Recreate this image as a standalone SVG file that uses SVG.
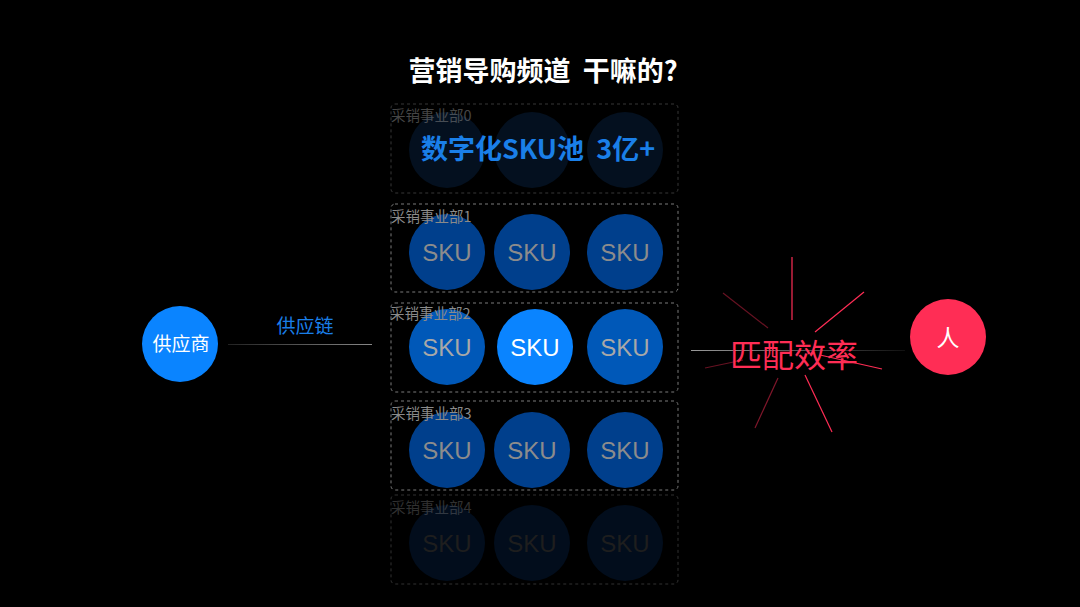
<svg xmlns="http://www.w3.org/2000/svg" width="1080" height="607" viewBox="0 0 1080 607">
<defs>
<style>
.t{font-family:"Noto Sans CJK SC","Liberation Sans",sans-serif}
.box{fill:none;stroke:#7a7a7a;stroke-width:1;stroke-dasharray:3 3}
.lbl{font-family:"Noto Sans CJK SC",sans-serif;font-size:14.5px;fill:#8a8a8a}
.sku{font-family:"Liberation Sans","Noto Sans",sans-serif;font-size:24px;text-anchor:middle}
.ray{stroke:#ff2d55;stroke-width:1.2}
</style>
<linearGradient id="gl" gradientUnits="userSpaceOnUse" x1="228" y1="0" x2="372" y2="0"><stop offset="0" stop-color="#222"/><stop offset="1" stop-color="#888"/></linearGradient>
<linearGradient id="gr" gradientUnits="userSpaceOnUse" x1="691" y1="0" x2="905" y2="0"><stop offset="0" stop-color="#999"/><stop offset="1" stop-color="#111"/></linearGradient>
</defs>
<rect width="1080" height="607" fill="#000"/>
<text class="t" x="543" y="81" font-size="27" font-weight="bold" fill="#fff" text-anchor="middle" xml:space="preserve">营销导购频道  干嘛的?</text>

<g id="connectors">
<line x1="228" y1="344.5" x2="372" y2="344.5" stroke="url(#gl)" stroke-width="1.2"/>
<line x1="691" y1="350.5" x2="905" y2="350.5" stroke="url(#gr)" stroke-width="1.2"/>
<text class="t" x="305" y="333" font-size="19" fill="#1a7fe8" text-anchor="middle">供应链</text>
</g>

<g id="row0">
<rect class="box" x="391" y="104" width="287" height="89" rx="4" stroke-opacity="0.45"/>
<circle cx="447" cy="150" r="38" fill="#04101f"/>
<circle cx="532" cy="150" r="38" fill="#04101f"/>
<circle cx="625" cy="150" r="38" fill="#04101f"/>
<text class="lbl" x="391" y="121" opacity="0.5">采销事业部0</text>
<text class="t" x="538" y="159" font-size="27" font-weight="bold" fill="#1a7fe8" text-anchor="middle" xml:space="preserve">数字化SKU池  3亿+</text>
</g>

<g id="row1">
<rect class="box" x="391" y="204" width="287" height="88" rx="4"/>
<circle cx="447" cy="252" r="38" fill="#003f8c"/>
<circle cx="532" cy="252" r="38" fill="#003f8c"/>
<circle cx="625" cy="252" r="38" fill="#003f8c"/>
<text class="lbl" x="391" y="222">采销事业部1</text>
<text class="sku" x="447" y="261" fill="#8c8c8c">SKU</text>
<text class="sku" x="532" y="261" fill="#8c8c8c">SKU</text>
<text class="sku" x="625" y="261" fill="#8c8c8c">SKU</text>
</g>

<g id="row2">
<rect class="box" x="391" y="303" width="287" height="89" rx="4" stroke="#aaa"/>
<circle cx="447" cy="347" r="38" fill="#0058b8"/>
<circle cx="535" cy="347" r="38" fill="#0a84ff"/>
<circle cx="625" cy="347" r="38" fill="#0058b8"/>
<text class="lbl" x="390" y="319" fill="#aaa">采销事业部2</text>
<text class="sku" x="447" y="356" fill="#a8a8a8">SKU</text>
<text class="sku" x="535" y="356" fill="#fff">SKU</text>
<text class="sku" x="625" y="356" fill="#a8a8a8">SKU</text>
</g>

<g id="row3">
<rect class="box" x="391" y="401" width="287" height="89" rx="4"/>
<circle cx="447" cy="450" r="38" fill="#003f8c"/>
<circle cx="532" cy="450" r="38" fill="#003f8c"/>
<circle cx="625" cy="450" r="38" fill="#003f8c"/>
<text class="lbl" x="391" y="419">采销事业部3</text>
<text class="sku" x="447" y="459" fill="#8c8c8c">SKU</text>
<text class="sku" x="532" y="459" fill="#8c8c8c">SKU</text>
<text class="sku" x="625" y="459" fill="#8c8c8c">SKU</text>
</g>

<g id="row4">
<rect class="box" x="391" y="495" width="287" height="89" rx="4" stroke-opacity="0.4"/>
<circle cx="447" cy="543" r="38" fill="#020d1c"/>
<circle cx="532" cy="543" r="38" fill="#020d1c"/>
<circle cx="625" cy="543" r="38" fill="#020d1c"/>
<text class="lbl" x="391" y="513" opacity="0.35">采销事业部4</text>
<text class="sku" x="447" y="552" fill="#1e1e1e">SKU</text>
<text class="sku" x="532" y="552" fill="#1e1e1e">SKU</text>
<text class="sku" x="625" y="552" fill="#1e1e1e">SKU</text>
</g>

<g id="supplier">
<circle cx="180" cy="344" r="38" fill="#0a84ff"/>
<text class="t" x="181" y="351" font-size="19" fill="#fff" text-anchor="middle">供应商</text>
</g>

<g id="match">
<line class="ray" x1="792" y1="257" x2="792" y2="320"/>
<line class="ray" x1="815" y1="332" x2="864" y2="292"/>
<line class="ray" x1="723" y1="293" x2="768" y2="328" opacity="0.4"/>
<line class="ray" x1="820" y1="355" x2="882" y2="369"/>
<line class="ray" x1="705" y1="368" x2="743" y2="360" opacity="0.4"/>
<line class="ray" x1="805" y1="375" x2="832" y2="432"/>
<line class="ray" x1="778" y1="378" x2="755" y2="428" opacity="0.5"/>
<text class="t" x="794" y="367" font-size="32" fill="#ff2d55" text-anchor="middle">匹配效率</text>
</g>

<g id="person">
<circle cx="948" cy="337" r="38" fill="#ff2d55"/>
<text class="t" x="948" y="346" font-size="23" fill="#fff" text-anchor="middle">人</text>
</g>
</svg>
